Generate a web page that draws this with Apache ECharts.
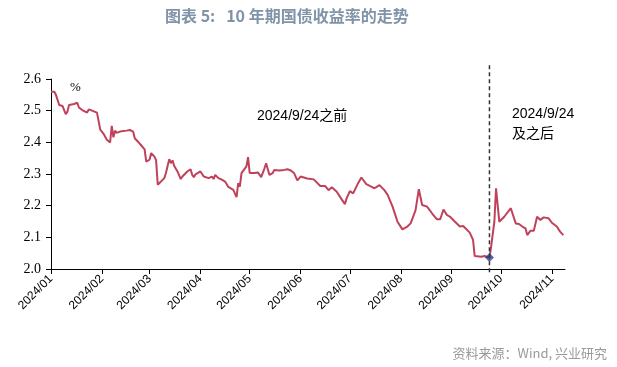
<!DOCTYPE html>
<html><head><meta charset="utf-8">
<script src="https://cdn.jsdelivr.net/npm/echarts@6/dist/echarts.min.js"></script>
<style>html,body{margin:0;padding:0;background:#fff}#c{width:617px;height:367px}</style>
</head><body><div id="c"></div>
<script>
const dates = ['2024-01-01','2024-01-03','2024-01-04','2024-01-06','2024-01-08','2024-01-09','2024-01-10','2024-01-11','2024-01-12','2024-01-15','2024-01-17','2024-01-18','2024-01-20','2024-01-23','2024-01-24','2024-01-26','2024-01-29','2024-01-31',
'2024-02-02','2024-02-04','2024-02-06','2024-02-07','2024-02-08','2024-02-09','2024-02-10','2024-02-12','2024-02-16','2024-02-18','2024-02-20','2024-02-21','2024-02-23','2024-02-25','2024-02-27','2024-02-28',
'2024-03-01','2024-03-02','2024-03-04','2024-03-05','2024-03-06','2024-03-07','2024-03-10','2024-03-11','2024-03-13','2024-03-14','2024-03-15','2024-03-16','2024-03-18','2024-03-20','2024-03-21','2024-03-22','2024-03-24','2024-03-26','2024-03-27','2024-03-28','2024-03-29','2024-03-30',
'2024-04-01','2024-04-03','2024-04-06','2024-04-08','2024-04-09','2024-04-10','2024-04-12','2024-04-14','2024-04-16','2024-04-18','2024-04-21','2024-04-23','2024-04-24','2024-04-25','2024-04-26','2024-04-29','2024-04-30',
'2024-05-01','2024-05-04','2024-05-06','2024-05-08','2024-05-10','2024-05-11','2024-05-13','2024-05-15','2024-05-16','2024-05-19','2024-05-22','2024-05-24','2024-05-26','2024-05-28','2024-05-30',
'2024-06-01','2024-06-05','2024-06-09','2024-06-13','2024-06-16','2024-06-18','2024-06-20','2024-06-23','2024-06-26','2024-06-28','2024-06-29',
'2024-07-01','2024-07-03','2024-07-06','2024-07-08','2024-07-11','2024-07-14','2024-07-16','2024-07-19','2024-07-22','2024-07-24','2024-07-27','2024-07-30',
'2024-08-02','2024-08-05','2024-08-07','2024-08-08','2024-08-10','2024-08-12','2024-08-14','2024-08-17','2024-08-20','2024-08-23','2024-08-25','2024-08-27','2024-08-29','2024-08-31',
'2024-09-03','2024-09-06','2024-09-08','2024-09-12','2024-09-14','2024-09-15','2024-09-19','2024-09-21','2024-09-24','2024-09-25','2024-09-27','2024-09-28','2024-09-30',
'2024-10-03','2024-10-07','2024-10-10','2024-10-12','2024-10-14','2024-10-16','2024-10-17','2024-10-19','2024-10-21','2024-10-23','2024-10-25','2024-10-27','2024-10-30',
'2024-11-01','2024-11-04','2024-11-06','2024-11-07','2024-11-08'];
const yields = [2.56,2.56,2.55,2.518,2.515,2.502,2.489,2.497,2.518,2.521,2.525,2.51,2.502,2.494,2.504,2.50,2.494,2.44,
2.427,2.408,2.40,2.452,2.416,2.437,2.43,2.434,2.437,2.439,2.434,2.413,2.402,2.39,2.378,2.339,
2.345,2.366,2.355,2.343,2.266,2.271,2.287,2.303,2.347,2.334,2.343,2.326,2.308,2.284,2.292,2.287,2.308,2.315,2.297,2.29,2.299,2.294,
2.308,2.292,2.287,2.292,2.284,2.297,2.287,2.282,2.276,2.259,2.25,2.227,2.271,2.26,2.303,2.324,2.353,
2.303,2.303,2.305,2.29,2.318,2.334,2.297,2.303,2.313,2.311,2.313,2.315,2.311,2.303,2.28,
2.292,2.286,2.283,2.262,2.262,2.249,2.258,2.244,2.22,2.205,2.223,
2.246,2.239,2.271,2.289,2.268,2.26,2.255,2.265,2.249,2.234,2.197,2.149,
2.125,2.134,2.144,2.139,2.186,2.252,2.202,2.197,2.176,2.157,2.157,2.188,2.171,2.165,
2.149,2.134,2.136,2.115,2.092,2.041,2.039,2.041,2.036,2.07,2.15,2.255,2.149,
2.165,2.192,2.144,2.142,2.134,2.128,2.107,2.121,2.121,2.165,2.155,2.163,2.16,
2.146,2.134,2.118,2.123,2.107];
const monthTicks = ['2024-01-01','2024-02-01','2024-03-01','2024-04-01','2024-05-01','2024-06-01','2024-07-01','2024-08-01','2024-09-01','2024-10-01','2024-11-01'];
const yTicks = [2.0,2.1,2.2,2.3,2.4,2.5,2.6];
const eventDate = '2024-09-24';
const eventValue = 2.036;
const axisStart = '2024-01-01';
const axisEnd = '2024-11-09';
const markRange = [1.99, 2.645];

const ts = s => Date.UTC(+s.slice(0,4), +s.slice(5,7)-1, +s.slice(8,10));
const chart = echarts.init(document.getElementById('c'), null, {renderer:'canvas'});
const pad = n => (n < 10 ? '0' : '') + n;
chart.setOption({
  animation:false,
  backgroundColor:'#fff',
  title:[{
    text:'图表 5:   10 年期国债收益率的走势', left:160, top:3,
    textStyle:{fontSize:16, fontWeight:'bold', color:'#8193a8', fontFamily:'Noto Sans CJK SC'}
  },{
    text:'资料来源：Wind, 兴业研究', right:5, top:342,
    textStyle:{fontSize:13, fontWeight:'normal', color:'#9a9a9a', fontFamily:'Noto Sans CJK SC'}
  }],
  grid:{left:51, right:52, top:79, bottom:98},
  xAxis:{
    type:'value', min:ts(axisStart), max:ts(axisEnd),
    axisLine:{lineStyle:{color:'#000', width:1}},
    axisTick:{show:true, length:5, lineStyle:{color:'#000'}, customValues: monthTicks.map(ts)},
    axisLabel:{customValues: monthTicks.map(ts), rotate:45, color:'#000', fontSize:12, fontFamily:'Liberation Sans', margin:8,
      formatter: v => { const d = new Date(v); return d.getUTCFullYear() + '/' + pad(d.getUTCMonth()+1); }},
    splitLine:{show:false}
  },
  yAxis:{
    type:'value', min:2.0, max:2.6, interval:0.1,
    axisLine:{show:true, lineStyle:{color:'#000', width:1}},
    axisTick:{show:true, length:5, lineStyle:{color:'#000'}},
    axisLabel:{color:'#000', fontSize:14, fontFamily:'Liberation Serif', margin:10, formatter: v => v.toFixed(1)},
    splitLine:{show:false}
  },
  series:[{
    type:'line', clip:false, symbol:'none', z:2,
    data: dates.map((d,i) => [ts(d), yields[i]]),
    lineStyle:{color:'#c0415a', width:2}
  },{
    type:'line', clip:false, symbol:'none', z:3, silent:true,
    data: markRange.map(v => [ts(eventDate), v]),
    lineStyle:{color:'#333', type:[4,3], width:1.5}
  },{
    type:'scatter', symbol:'diamond', symbolSize:9,
    data:[[ts(eventDate), eventValue]],
    itemStyle:{color:'#2c3e7a'}, z:5
  }],
  graphic:[
    {type:'text', left:70, top:81, style:{text:'%', font:'13px "Liberation Serif"', fill:'#000'}},
    {type:'text', left:257, top:109, style:{text:'2024/9/24之前', font:'14px "Liberation Sans", "Noto Sans CJK SC"', fill:'#000'}},
    {type:'text', left:512, top:104, style:{text:'2024/9/24\n及之后', font:'14px "Liberation Sans", "Noto Sans CJK SC"', fill:'#000', lineHeight:20}}
  ]
});
</script></body></html>
